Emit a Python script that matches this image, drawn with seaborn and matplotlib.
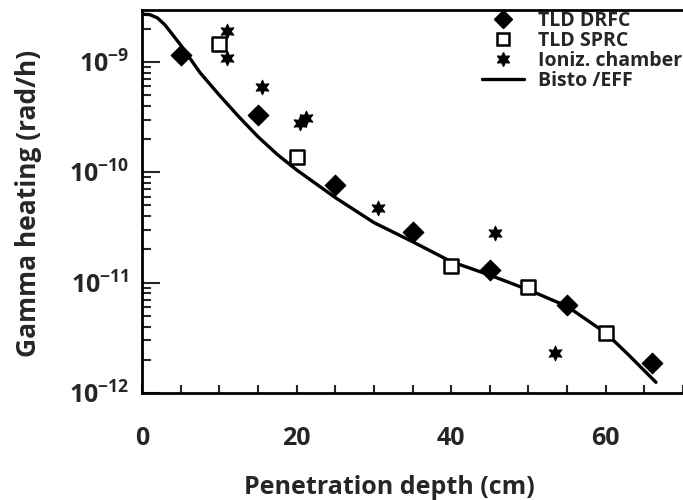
import matplotlib
matplotlib.use('Agg')
import matplotlib.pyplot as plt
import matplotlib.ticker as mticker
from matplotlib.lines import Line2D
import pandas as pd
import seaborn as sns

# Data
drfc_x = [5, 15, 25, 35, 45, 55, 66]
drfc_y = [1.16e-9, 3.3e-10, 7.7e-11, 2.9e-11, 1.3e-11, 6.3e-12, 1.86e-12]

sprc_x = [10, 20, 40, 50, 60]
sprc_y = [1.44e-9, 1.36e-10, 1.42e-11, 9.2e-12, 3.47e-12]

ion_x = [11, 11, 15.5, 20.4, 21.2, 30.5, 45.7, 53.4]
ion_y = [1.9e-9, 1.09e-9, 5.9e-10, 2.8e-10, 3.1e-10, 4.7e-11, 2.8e-11, 2.3e-12]

bisto_x = [0, 1, 2, 3, 4, 5, 7.5, 10, 12.5, 15, 17.5, 20, 25, 30, 35, 40,
           45, 50, 55, 60, 63, 66.5]
bisto_y = [2.7e-9, 2.68e-9, 2.5e-9, 2.15e-9, 1.75e-9, 1.42e-9, 8.0e-10,
           5.0e-10, 3.2e-10, 2.1e-10, 1.45e-10, 1.05e-10, 5.9e-11, 3.5e-11,
           2.35e-11, 1.55e-11, 1.17e-11, 8.6e-12, 6.1e-12, 3.5e-12, 2.2e-12,
           1.25e-12]

ytick_vals = [1e-12, 1e-11, 1e-10, 1e-9]
ytick_labels = ['10$^{-12}$', '10$^{-11}$', '10$^{-10}$', '10$^{-9}$']

sns.set_style('ticks')
plt.rcParams['font.family'] = ['Open Sans', 'DejaVu Sans']
plt.rcParams['font.weight'] = 'bold'
plt.rcParams['mathtext.fontset'] = 'custom'
plt.rcParams['mathtext.rm'] = 'Open Sans:bold'
plt.rcParams['mathtext.it'] = 'Open Sans:bold'
plt.rcParams['mathtext.bf'] = 'Open Sans:bold'

W, H = 683, 500
fig = plt.figure(figsize=(W / 100, H / 100), dpi=100)
ax = fig.add_axes([142 / W, (H - 393) / H, (W - 142) / W, (393 - 10) / H])

# Bisto/EFF calculation curve
df_line = pd.DataFrame({'x': bisto_x, 'y': bisto_y})
sns.lineplot(data=df_line, x='x', y='y', ax=ax, color='black', lw=2.4,
             sort=True, estimator=None)

# measurements
sns.scatterplot(x=drfc_x, y=drfc_y, ax=ax, marker='D', s=110,
                color='black', edgecolor='black', zorder=3)
sns.scatterplot(x=sprc_x, y=sprc_y, ax=ax, marker='s', s=95,
                facecolor='white', edgecolor='black', linewidth=1.8, zorder=3)
sns.scatterplot(x=ion_x, y=ion_y, ax=ax, marker=(6, 1, 0), s=110,
                color='black', edgecolor='black', linewidth=0.8, zorder=3)

ax.set_yscale('log')
ax.set_xlim(0, 70)
ax.set_ylim(1e-12, 2.95e-9)

ax.xaxis.set_major_locator(mticker.MultipleLocator(20))
ax.xaxis.set_minor_locator(mticker.MultipleLocator(5))
ax.yaxis.set_major_locator(mticker.FixedLocator(ytick_vals))
ax.yaxis.set_major_formatter(mticker.FixedFormatter(ytick_labels))
ax.yaxis.set_minor_locator(mticker.LogLocator(base=10, subs=range(2, 10)))
ax.yaxis.set_minor_formatter(mticker.NullFormatter())

ax.tick_params(axis='x', which='both', direction='in', length=6, width=1.5,
               pad=24, labelsize=18)
ax.tick_params(axis='y', which='major', direction='in', length=13, width=1.5,
               pad=9, labelsize=18)
ax.tick_params(axis='y', which='minor', direction='in', length=6.5, width=1.5)

for side in ['left', 'bottom', 'top']:
    ax.spines[side].set_visible(True)
    ax.spines[side].set_linewidth(2)
    ax.spines[side].set_color('black')
ax.spines['right'].set_visible(False)

ax.set_xlabel('Penetration depth (cm)', fontsize=18, fontweight='bold')
ax.set_ylabel('Gamma heating (rad/h)', fontsize=19, fontweight='bold')
ax.xaxis.set_label_coords(0.458, -0.214)
ax.yaxis.set_label_coords(-0.185, 0.496)

handles = [
    Line2D([], [], marker='D', color='black', ls='none', markersize=9),
    Line2D([], [], marker='s', mfc='white', mec='black', mew=1.8, ls='none',
           markersize=8),
    Line2D([], [], marker=(6, 1, 0), color='black', ls='none', markersize=10),
    Line2D([], [], color='black', lw=2.4),
]
labels = ['TLD DRFC', 'TLD SPRC', 'Ioniz. chamber', 'Bisto /EFF']
leg = ax.legend(handles, labels, loc='upper right', bbox_to_anchor=(1.0, 1.0),
                frameon=False, fontsize=14, handlelength=2.2,
                handletextpad=0.7, labelspacing=0.0, borderpad=0.05,
                borderaxespad=0.0)
for t in leg.get_texts():
    t.set_fontweight('bold')

fig.savefig('out.png', dpi=100)
